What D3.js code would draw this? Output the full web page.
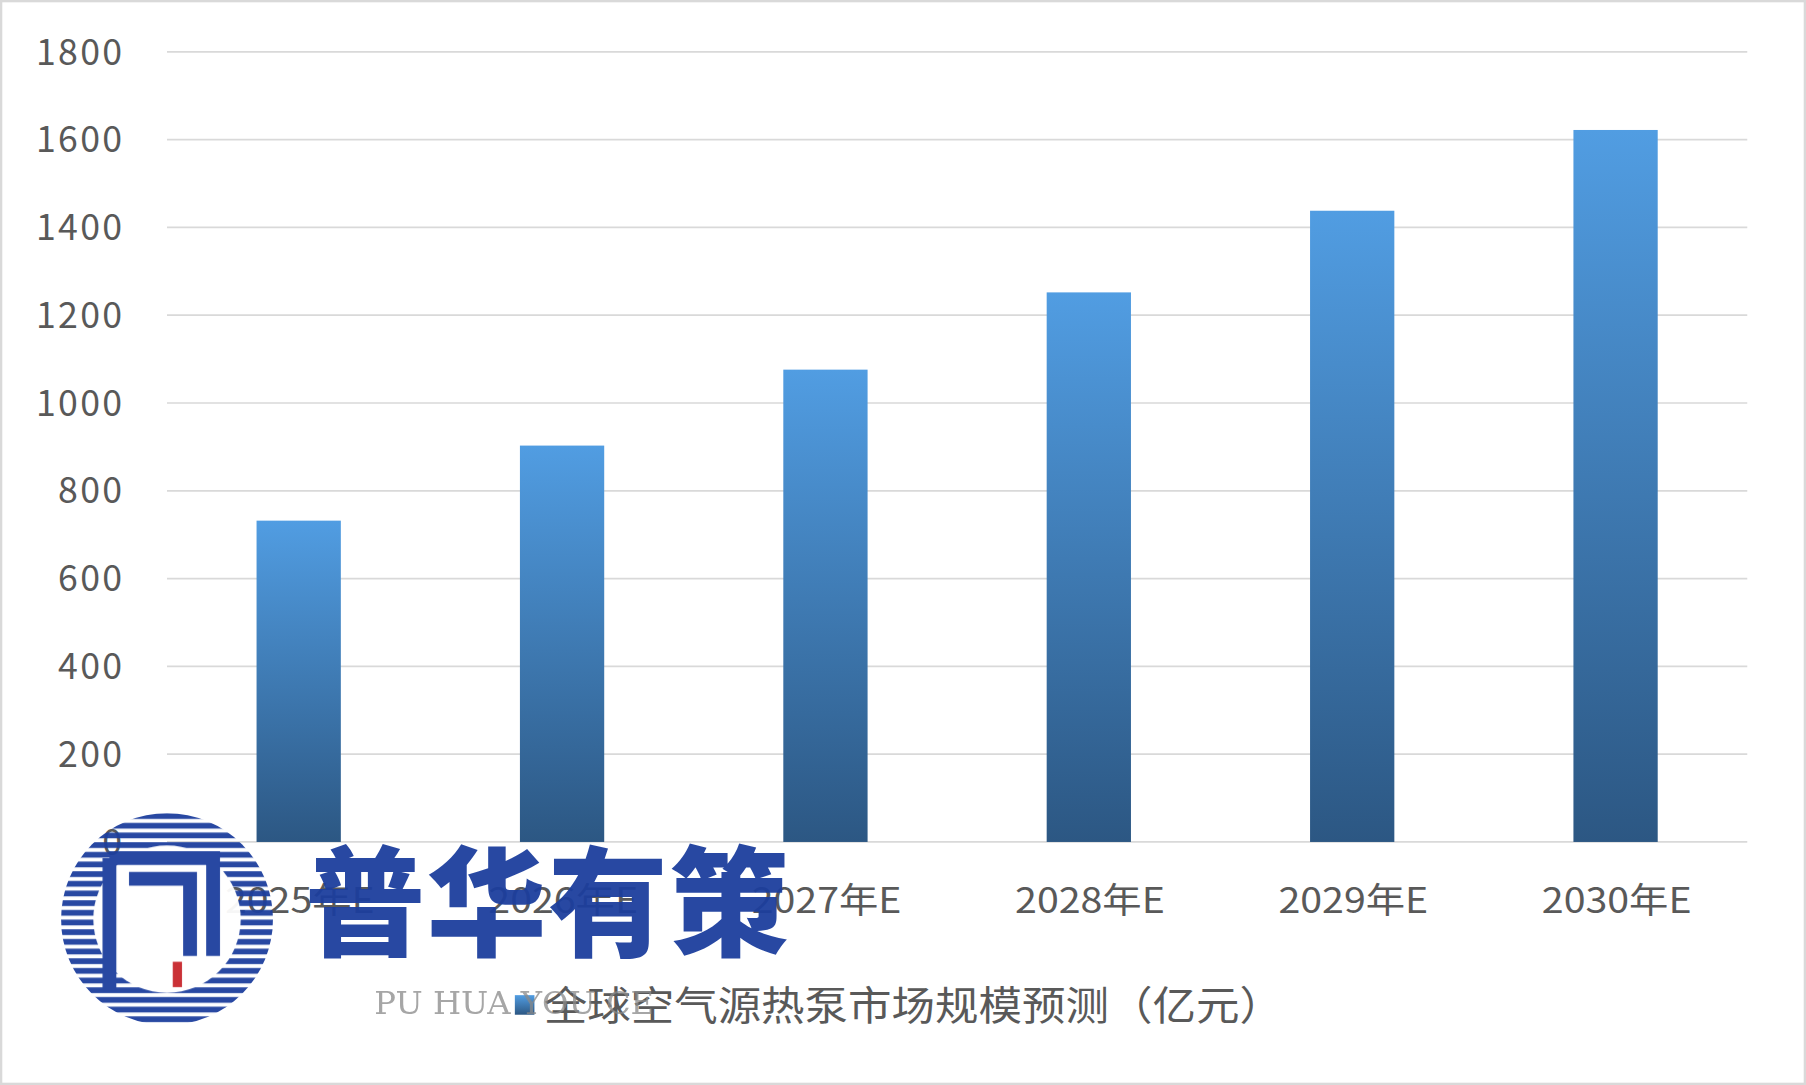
<!DOCTYPE html>
<html><head><meta charset="utf-8">
<script src="https://cdn.jsdelivr.net/npm/d3@7"></script>
<style>body{margin:0;background:#fff}svg{display:block}</style>
</head><body>
<svg id="chart" width="1806" height="1085" viewBox="0 0 1568 942"></svg>
<script>
var categories = [ '2025年E', '2026年E', '2027年E', '2028年E', '2029年E', '2030年E' ];
var values = [ 732, 903, 1076, 1252, 1438, 1622 ];
var yTicks = [ 0, 200, 400, 600, 800, 1000, 1200, 1400, 1600, 1800 ];
var seriesName = '全球空气源热泵市场规模预测（亿元）';

var svg = d3.select( '#chart' );
var font = '"Noto Sans CJK SC", "Liberation Sans", sans-serif';

svg.append( 'rect' ).attr( 'x', 1 ).attr( 'y', 1 ).attr( 'width', 1566 ).attr( 'height', 940 )
    .attr( 'fill', '#fff' ).attr( 'stroke', '#d9d9d9' ).attr( 'stroke-width', 2 );

var grad = svg.append( 'defs' ).append( 'linearGradient' )
    .attr( 'id', 'barGrad' ).attr( 'x1', 0 ).attr( 'y1', 0 ).attr( 'x2', 0 ).attr( 'y2', 1 );
grad.append( 'stop' ).attr( 'offset', '0%' ).attr( 'stop-color', '#519de2' );
grad.append( 'stop' ).attr( 'offset', '100%' ).attr( 'stop-color', '#2c5783' );

var x = d3.scaleBand().domain( categories ).range( [ 145, 1517 ] ).paddingInner( 0.68 ).paddingOuter( 0.34 );
var y = d3.scaleLinear().domain( [ 0, 1800 ] ).range( [ 731, 45 ] );

svg.append( 'g' ).selectAll( 'line' ).data( yTicks ).enter().append( 'line' )
    .attr( 'x1', 145 ).attr( 'x2', 1517 )
    .attr( 'y1', function( d ) { return y( d ); } ).attr( 'y2', function( d ) { return y( d ); } )
    .attr( 'stroke', '#d9d9d9' ).attr( 'stroke-width', 1.5 );

svg.append( 'g' ).selectAll( 'text' ).data( yTicks ).enter().append( 'text' )
    .attr( 'x', 108 ).attr( 'y', function( d ) { return y( d ) + 11; } )
    .attr( 'text-anchor', 'end' ).attr( 'font-family', font ).attr( 'font-size', 31 )
    .attr( 'letter-spacing', 2 ).attr( 'fill', '#595959' ).text( function( d ) { return d; } );

svg.append( 'g' ).selectAll( 'rect' ).data( values ).enter().append( 'rect' )
    .attr( 'x', function( d, i ) { return x( categories[ i ] ); } )
    .attr( 'width', x.bandwidth() )
    .attr( 'y', function( d ) { return y( d ); } )
    .attr( 'height', function( d ) { return y( 0 ) - y( d ); } )
    .attr( 'fill', 'url(#barGrad)' );

svg.append( 'g' ).selectAll( 'text' ).data( categories ).enter().append( 'text' )
    .attr( 'x', function( d ) { return x( d ) + x.bandwidth() / 2 - 64; } ).attr( 'y', 793 )
    .attr( 'textLength', 130 ).attr( 'lengthAdjust', 'spacingAndGlyphs' )
    .attr( 'font-family', font ).attr( 'font-size', 31 )
    .attr( 'fill', '#595959' ).text( function( d ) { return d; } );

// legend
svg.append( 'rect' ).attr( 'x', 447 ).attr( 'y', 864 ).attr( 'width', 17 ).attr( 'height', 17 ).attr( 'fill', 'url(#barGrad)' );
svg.append( 'text' ).attr( 'x', 472 ).attr( 'y', 886 ).attr( 'font-family', font ).attr( 'font-size', 35 )
    .attr( 'textLength', 642 ).attr( 'lengthAdjust', 'spacingAndGlyphs' )
    .attr( 'fill', '#595959' ).text( seriesName );

// watermark
var wm = svg.append( 'g' ).attr( 'opacity', 0.95 );
wm.append( 'clipPath' ).attr( 'id', 'logoClip' ).append( 'circle' ).attr( 'cx', 145 ).attr( 'cy', 798 ).attr( 'r', 92 );
var logo = wm.append( 'g' ).attr( 'clip-path', 'url(#logoClip)' );
d3.range( 0, 22 ).forEach( function( i ) {
    logo.append( 'rect' ).attr( 'x', 50 ).attr( 'y', 706 + i * 8.4 ).attr( 'width', 190 ).attr( 'height', 5 ).attr( 'fill', '#1d3f9e' );
} );
logo.append( 'circle' ).attr( 'cx', 145 ).attr( 'cy', 798 ).attr( 'r', 64 ).attr( 'fill', '#fff' );
logo.append( 'path' ).attr( 'd', 'M95 745 H185 V830 M112 763 H165 V830 M95 745 V860' )
    .attr( 'fill', 'none' ).attr( 'stroke', '#1d3f9e' ).attr( 'stroke-width', 12 );
logo.append( 'rect' ).attr( 'x', 150 ).attr( 'y', 835 ).attr( 'width', 8 ).attr( 'height', 22 ).attr( 'fill', '#c8262c' );
wm.append( 'text' ).attr( 'x', 265 ).attr( 'y', 822 ).attr( 'font-family', '"Noto Sans CJK SC", sans-serif' )
    .attr( 'font-weight', 900 ).attr( 'font-size', 104 ).attr( 'fill', '#1d3f9e' ).attr( 'textLength', 420 ).text( '普华有策' );
wm.append( 'text' ).attr( 'x', 325 ).attr( 'y', 880 ).attr( 'font-family', '"DejaVu Serif", serif' )
    .attr( 'font-size', 28 ).attr( 'fill', '#8a8a8a' ).attr( 'opacity', 0.8 ).text( 'PU HUA YOU CE' );
</script>
</body></html>
